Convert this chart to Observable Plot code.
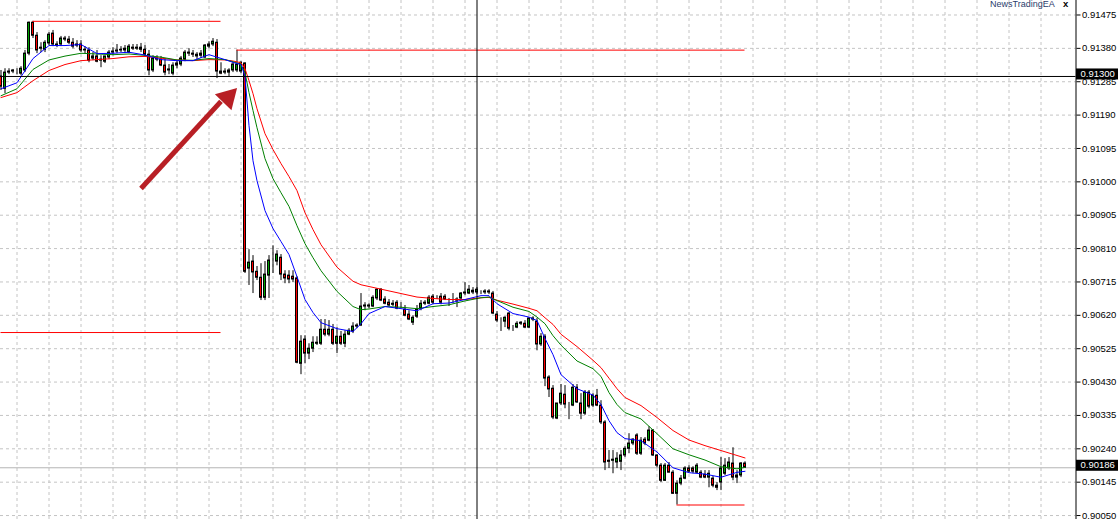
<!DOCTYPE html>
<html><head><meta charset="utf-8">
<script src="https://cdn.jsdelivr.net/npm/d3@7"></script>
<script src="https://cdn.jsdelivr.net/npm/@observablehq/plot@0.6"></script>
<style>
html,body{margin:0;padding:0;background:#fff;overflow:hidden;}
#chart{position:relative;width:1120px;height:519px;}
</style></head><body><div id="chart"></div>
<script>
// prices in points (x 1e-5)
const opens = [91300,91265,91311,91314,91314,91308,91317,91365,91453,91416,
91379,91376,91394,91422,91388,91391,91405,91405,91396,91388,
91391,91374,91374,91351,91357,91345,91342,91354,91368,91371,
91374,91374,91368,91382,91379,91382,91376,91362,91317,91351,
91348,91331,91317,91308,91331,91334,91348,91365,91365,91357,
91359,91354,91385,91391,91396,91314,91311,91311,91317,91317,
91314,91337,90753,90773,90744,90727,90670,90733,90779,90773,
90784,90736,90733,90730,90725,90482,90551,90511,90525,90539,
90539,90579,90565,90579,90539,90559,90539,90565,90574,90588,
90591,90645,90645,90645,90668,90693,90665,90656,90650,90656,
90645,90636,90622,90599,90616,90639,90653,90653,90673,90670,
90673,90673,90662,90665,90665,90668,90682,90682,90690,90685,
90685,90685,90688,90682,90622,90605,90602,90625,90585,90585,
90596,90596,90585,90608,90602,90537,90559,90443,90411,90326,
90369,90394,90366,90363,90414,90369,90340,90400,90363,90391,
90363,90315,90206,90206,90201,90203,90221,90240,90255,90278,
90226,90266,90263,90292,90221,90192,90149,90192,90172,90112,
90141,90155,90184,90184,90172,90172,90166,90158,90155,90135,
90144,90169,90184,90198,90164,90164,90198];
const highs = [91317,91322,91322,91320,91322,91328,91374,91455,91457,91425,
91396,91402,91425,91431,91399,91414,91414,91414,91408,91402,
91402,91385,91382,91368,91374,91359,91357,91374,91382,91391,
91385,91388,91391,91391,91391,91394,91388,91374,91359,91359,
91357,91351,91334,91339,91345,91357,91374,91379,91374,91368,
91374,91391,91399,91408,91405,91339,91322,91322,91339,91375,
91342,91339,90807,90790,90759,90767,90773,90790,90818,90804,
90793,90747,90747,90747,90730,90562,90562,90539,90559,90559,
90608,90608,90605,90594,90585,90574,90576,90582,90599,90596,
90682,90656,90653,90676,90696,90696,90673,90665,90662,90662,
90656,90648,90633,90619,90648,90662,90662,90676,90679,90676,
90682,90679,90668,90682,90670,90685,90713,90705,90699,90699,
90690,90693,90693,90688,90631,90613,90616,90628,90591,90602,
90602,90605,90613,90616,90611,90568,90565,90448,90420,90363,
90423,90420,90372,90423,90423,90397,90406,90406,90397,90409,
90377,90320,90235,90235,90229,90235,90246,90283,90269,90283,
90272,90272,90303,90295,90223,90198,90198,90201,90178,90149,
90164,90189,90192,90189,90198,90178,90178,90178,90161,90144,
90215,90212,90215,90243,90178,90201,90203];
const lows = [91260,91251,91305,91308,91305,91302,91311,91359,91408,91365,
91368,91368,91388,91385,91382,91385,91399,91391,91379,91382,
91368,91365,91339,91345,91339,91325,91337,91348,91359,91365,
91368,91365,91365,91374,91374,91368,91357,91302,91311,91342,
91328,91302,91305,91302,91322,91328,91342,91357,91354,91345,
91351,91351,91379,91385,91294,91305,91305,91300,91311,91311,
91308,90739,90705,90682,90719,90662,90662,90668,90739,90761,
90719,90710,90710,90713,90482,90451,90482,90494,90514,90534,
90534,90559,90559,90534,90511,90534,90528,90562,90568,90582,
90588,90633,90639,90642,90662,90659,90650,90645,90645,90636,
90639,90616,90605,90591,90611,90633,90648,90650,90650,90665,
90650,90662,90645,90653,90642,90665,90676,90679,90679,90679,
90679,90679,90679,90622,90599,90574,90585,90576,90574,90582,
90591,90582,90582,90602,90519,90531,90417,90386,90323,90323,
90363,90354,90323,90360,90369,90323,90335,90354,90357,90360,
90309,90178,90184,90169,90184,90178,90215,90226,90249,90221,
90221,90249,90260,90218,90186,90144,90147,90172,90110,90080,
90135,90152,90172,90169,90169,90155,90155,90129,90129,90121,
90121,90164,90178,90149,90141,90158,90184];
const closes = [91271,91311,91314,91317,91314,91322,91365,91453,91416,91374,
91382,91396,91419,91391,91391,91408,91408,91396,91385,91391,
91374,91376,91345,91357,91342,91348,91357,91368,91371,91374,
91376,91379,91385,91379,91382,91376,91362,91317,91351,91348,
91331,91311,91320,91331,91337,91351,91368,91368,91362,91362,
91365,91388,91391,91399,91314,91308,91314,91317,91334,91334,
91339,90744,90770,90742,90727,90670,90736,90776,90779,90793,
90736,90725,90722,90722,90485,90545,90511,90525,90542,90542,
90579,90565,90579,90539,90559,90539,90565,90576,90588,90591,
90645,90648,90648,90670,90693,90662,90653,90648,90653,90639,
90645,90619,90608,90613,90636,90653,90656,90670,90656,90670,
90656,90665,90662,90665,90662,90682,90685,90693,90685,90693,
90685,90688,90685,90625,90605,90605,90613,90582,90585,90596,
90599,90585,90611,90611,90537,90559,90440,90409,90329,90369,
90397,90366,90366,90414,90372,90340,90400,90360,90391,90363,
90315,90201,90203,90209,90212,90221,90240,90255,90266,90226,
90263,90255,90292,90221,90192,90149,90192,90172,90112,90141,
90155,90184,90175,90175,90192,90158,90158,90169,90135,90129,
90184,90192,90201,90158,90158,90198,90186];

// moving averages read at these bar indices
const maIndex = [0,4,8,12,16,20,24,28,32,36,40,44,48,52,56,58,60,61,62,63,
64,66,68,70,72,74,76,78,80,84,88,90,92,96,100,104,108,112,116,120,
122,124,128,132,134,136,138,140,144,148,150,152,154,156,160,164,168,172,176,180,184,186];
const maFast = [91265,91282,91351,91388,91388,91391,91365,91366,91369,91361,
91348,91345,91345,91362,91348,91340,91334,91300,91160,91060,
91003,90918,90867,90830,90793,90730,90665,90628,90599,90582,
90574,90596,90625,90645,90639,90633,90653,90655,90665,90676,
90676,90653,90625,90615,90605,90554,90508,90451,90411,90393,
90366,90320,90286,90269,90263,90231,90186,90172,90168,90159,90173,90176];
const maMid = [91245,91265,91320,91347,91358,91366,91364,91362,91364,91360,
91355,91347,91346,91351,91348,91342,91334,91311,91254,91203,
91154,91066,91009,90969,90930,90875,90824,90784,90747,90688,
90645,90636,90638,90645,90643,90639,90645,90650,90661,90670,
90672,90662,90643,90631,90615,90596,90562,90535,90490,90468,
90446,90400,90366,90343,90325,90283,90240,90223,90208,90189,90183,90187];
const maSlow = [91240,91254,91288,91317,91334,91345,91348,91351,91356,91357,
91352,91347,91345,91348,91347,91344,91339,91322,91288,91251,
91208,91137,91092,91052,91015,90975,90912,90864,90821,90757,
90717,90707,90702,90692,90682,90672,90668,90665,90665,90670,
90671,90663,90652,90640,90633,90613,90594,90566,90531,90492,
90471,90441,90411,90386,90363,90329,90292,90265,90249,90235,90221,90214];

const yTicks = [91475,91380,91285,91190,91095,91000,90905,90810,90715,90620,90525,90430,90335,90240,90145,90050];
const levelFrom = [8, 0, 59, 169];
const levelTo = [55, 55, 186, 186];
const levelPrice = [91457, 90571, 91375, 90080];
const crossPrice = 91300;
const crossBar = 119;
const lastPrice = 90186;
const arrowBars = [35, 55];      // tail, base of head
const arrowPrices = [90981, 91229];
const arrowHead = [{i: 56.7, p: 91240}];

const P = v => v / 1e5;
const bars = opens.map((o, i) => ({i, o: P(o), h: P(highs[i]), l: P(lows[i]), c: P(closes[i])}));
const ma = (vals) => maIndex.map((i, k) => ({i, v: P(vals[k])}));
const levels = levelPrice.map((p, k) => ({x1: levelFrom[k], x2: levelTo[k], y: P(p)}));
const gridBars = d3.range(4, 262, 8);
const xDomain = [-0.125, 268.75];
const yDomain = [0.9003874, 0.9151628];
const dash = "3,3";
const gridColor = "#c4c4c4";

const chart = Plot.plot({
  width: 1120, height: 519,
  marginLeft: 0, marginRight: 44.5, marginTop: 0, marginBottom: 0,
  style: {fontFamily: "'Liberation Sans', Arial, sans-serif", fontSize: "9.5px", background: "#fff", overflow: "visible"},
  x: {type: "linear", domain: xDomain, axis: null},
  y: {type: "linear", domain: yDomain, axis: null},
  marks: [
    Plot.ruleY(yTicks, {y: P, stroke: gridColor, strokeDasharray: dash}),
    Plot.ruleX(gridBars, {x: d => d, stroke: gridColor, strokeDasharray: dash}),
    Plot.ruleY([lastPrice], {y: P, stroke: "#b4b4b4"}),
    Plot.ruleX(bars, {x: "i", y1: "l", y2: "h", stroke: "black", strokeWidth: 1}),
    Plot.rect(bars, {x1: d => d.i - 0.25, x2: d => d.i + 0.25, y1: "o", y2: "c",
      fill: d => d.c > d.o ? "#00a000" : (d.c < d.o ? "#ff0000" : "black"), stroke: "black", strokeWidth: 1}),
    Plot.line(ma(maSlow), {x: "i", y: "v", stroke: "#ff0000", strokeWidth: 1}),
    Plot.line(ma(maMid), {x: "i", y: "v", stroke: "#008000", strokeWidth: 1}),
    Plot.line(ma(maFast), {x: "i", y: "v", stroke: "#0000ff", strokeWidth: 1}),
    Plot.ruleY(levels, {x1: "x1", x2: "x2", y: "y", stroke: "#ff0000", strokeWidth: 1}),
    Plot.ruleY([crossPrice], {y: P, stroke: "black", strokeWidth: 1}),
    Plot.ruleX([crossBar], {stroke: "black", strokeWidth: 1}),
    Plot.link([0], {x1: () => arrowBars[0], y1: () => P(arrowPrices[0]), x2: () => arrowBars[1], y2: () => P(arrowPrices[1]),
      stroke: "#b81f25", strokeWidth: 5, strokeLinecap: "butt", ariaLabel: "arrowmark"}),
    Plot.dot(arrowHead, {x: "i", y: d => P(d.p), symbol: "triangle2", r: 11, rotate: 44, fill: "#b81f25", stroke: "none", ariaLabel: "arrowmark"}),
    Plot.ruleX([xDomain[1]], {stroke: "black", strokeWidth: 1}),
    Plot.axisY(yTicks.map(P), {anchor: "right", tickSize: 4, tickPadding: 2, tickFormat: d3.format(".5f"), fill: "black", stroke: "black"})
  ]
});

document.getElementById("chart").appendChild(chart);
const svg = d3.select(chart);
svg.selectAll('g[aria-label="arrowmark"]').style("filter", "drop-shadow(4px 4px 3px rgba(0,0,0,0.45))");
const ys = chart.scale("y");
for (const p of [crossPrice, lastPrice]) {
  const cy = ys.apply(P(p));
  svg.append("rect").attr("x", 1076).attr("y", cy - 7.5).attr("width", 42).attr("height", 11).attr("fill", "black");
  svg.append("text").attr("x", 1080.5).attr("y", cy - 2).attr("dy", "0.32em").attr("fill", "white")
    .attr("text-anchor", "start").attr("font-size", "9.5px").text(d3.format(".5f")(P(p)));
}
svg.append("text").attr("x", 990).attr("y", 7).attr("fill", "#2b3d6b").attr("font-size", "9px")
  .attr("text-anchor", "start").text("NewsTradingEA");
svg.append("text").attr("x", 1063).attr("y", 7).attr("fill", "black").attr("font-size", "9.5px").attr("font-weight", "bold")
  .attr("text-anchor", "start").text("x");
</script>
</body></html>
